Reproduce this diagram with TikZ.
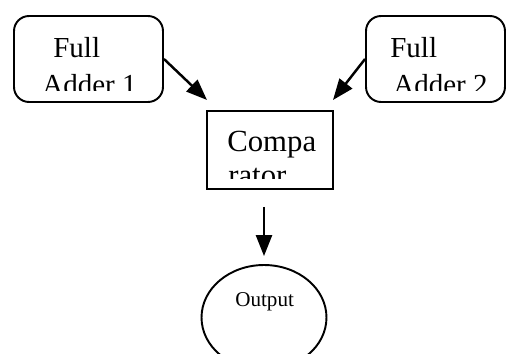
\documentclass[tikz,border=0pt]{standalone}
\usepackage{fontspec}
\setmainfont{Liberation Serif}
\usetikzlibrary{shapes.geometric,arrows.meta}
\tikzset{
  adderbox/.style={draw, line width=1.1pt, rounded corners=0.3cm, minimum height=1.72cm},
  compbox/.style={draw, line width=1.1pt, minimum width=2.52cm, minimum height=1.56cm},
  outnode/.style={draw, ellipse, line width=1.1pt, minimum width=2.5cm, minimum height=2.1cm, inner sep=0pt},
  lbl/.style={anchor=base west, inner sep=0pt, font=\fontsize{16.5}{18}\selectfont},
  arr/.style={line width=1.4pt, -{Triangle[length=0.42cm,width=0.32cm]}}
}
\begin{document}
\begin{tikzpicture}[x=0.02cm, y=-0.02cm]
    \useasboundingbox (0,0) rectangle (507,354);

    % Draw the boxes and the output ellipse
    \node[adderbox, minimum width=2.98cm] (fa1) at (88.5,59) {};
    \node[adderbox, minimum width=2.78cm] (fa2) at (435.5,59) {};
    \node[compbox] (comp) at (270,150) {};
    \node[outnode] (out) at (264,317.5) {};

    % Texts, cut off at the bottom of each box
    \begin{scope}
      \clip (14,16) rectangle (163,91);
      \node[lbl] (fa1top) at (53,58) {Full};
      \node[lbl] (fa1bot) at (42,95) {Adder 1};
    \end{scope}
    \begin{scope}
      \clip (366,16) rectangle (505,91);
      \node[lbl] (fa2top) at (390,58) {Full};
      \node[lbl] (fa2bot) at (393,95) {Adder 2};
    \end{scope}
    \begin{scope}
      \clip (207,111) rectangle (333,179);
      \node[lbl, font=\fontsize{17.5}{19}\selectfont] (comptop) at (227,152) {Compa};
      \node[lbl, font=\fontsize{17.5}{19}\selectfont] (compbot) at (228,186) {rator};
    \end{scope}
    \node[lbl, font=\fontsize{12}{14}\selectfont] (outtxt) at (235,307) {Output};

    % Arrows between the parts
    \coordinate (t1) at (207,100);
    \coordinate (t2) at (333,100);
    \coordinate (d1) at (264,207);
    \draw[arr] (fa1.east) -- (t1);
    \draw[arr] (fa2.west) -- (t2);
    \draw[arr, shorten >=0.16cm] (d1) -- (out.north);
\end{tikzpicture}
\end{document}
